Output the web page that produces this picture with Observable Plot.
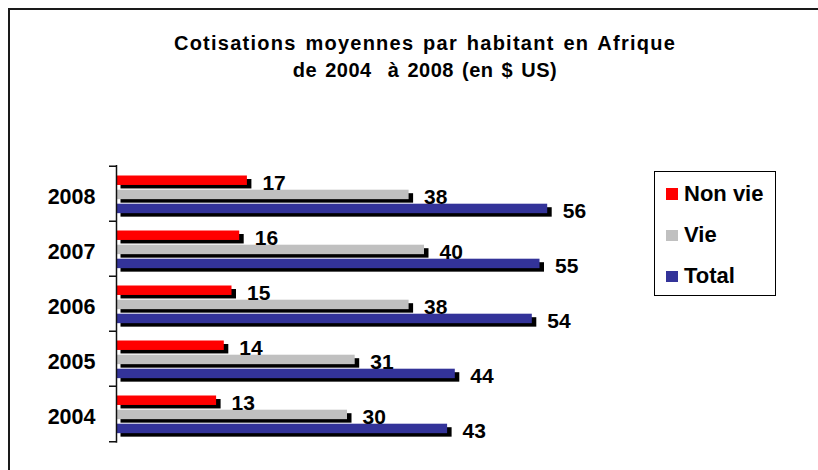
<!DOCTYPE html>
<html>
<head>
<meta charset="utf-8">
<script src="https://cdn.jsdelivr.net/npm/d3@7"></script>
<script src="https://cdn.jsdelivr.net/npm/@observablehq/plot@0.6"></script>
<style>
  html, body { margin: 0; padding: 0; background: #fff; overflow: hidden; }
  #wrap { position: relative; width: 818px; height: 470px; overflow: hidden; font-family: "Liberation Sans", Arial, sans-serif; }
  #wrap svg { position: absolute; left: 0; top: 0; background: transparent; }
  #frame { position: absolute; left: 8px; top: 8px; width: 900px; height: 600px; border-left: 2px solid #1a1a1a; border-top: 2px solid #1a1a1a; }
  #title { position: absolute; left: 21px; top: 29.6px; width: 808px; text-align: center; font-weight: bold; font-size: 20px; line-height: 27.5px; word-spacing: 2px; color: #000; }
  #legend { position: absolute; left: 654px; top: 171px; width: 120px; height: 123px; border: 1.5px solid #000; background: #fff; }
  .row { position: absolute; left: 0; height: 24px; line-height: 24px; font-weight: bold; font-size: 22px; color: #000; }
  .sw { position: absolute; left: 11px; top: 6.5px; width: 11.5px; height: 11.5px; }
  .lbl { position: absolute; left: 29px; top: 0; white-space: nowrap; }
</style>
</head>
<body>
<div id="wrap">
  <div id="title"></div>
  <div id="legend"></div>
</div>
<script>
// ---- data ----
const titleLines = ["Cotisations moyennes par habitant en Afrique", "de 2004  à 2008 (en $ US)"];
const years = ["2008", "2007", "2006", "2005", "2004"];
const seriesNames = ["Non vie", "Vie", "Total"];
const seriesColors = ["#FF0000", "#C0C0C0", "#333399"];
const nonVie = [17, 16, 15, 14, 13];
const vie = [38, 40, 38, 31, 30];
const total = [56, 55, 54, 44, 43];
const seriesValues = [nonVie, vie, total];

// ---- layout ----
const W = 818, H = 470;
const mL = 116, mR = 240, mT = 165, mB = 27.3;
const xMax = 60;
const bw = (H - mT - mB) / years.length;
const barTops = [9.5, 23.7, 37.7];
const barH = 10;
const pxPerUnit = (W - mL - mR) / xMax;
const tickLen = 7;
const titleSpacing = ["1.25px", "0.5px"];

const marks = [];
seriesValues.forEach((vals, s) => {
  const rows = years.map((y, i) => ({year: y, value: vals[i]}));
  const insetTop = barTops[s];
  const insetBottom = bw - barTops[s] - barH;
  marks.push(Plot.barX(rows, {x: "value", y: "year", fill: "#000", insetTop, insetBottom, dx: 4.5, dy: 3.5}));
  marks.push(Plot.barX(rows, {x: "value", y: "year", fill: seriesColors[s], insetTop, insetBottom}));
});
seriesValues.forEach((vals, s) => {
  const rows = years.map((y, i) => ({year: y, value: vals[i]}));
  marks.push(Plot.text(rows, {
    x: "value", y: "year", text: d => String(d.value),
    dx: 15, dy: barTops[s] + barH / 2 + 2.2 - bw / 2,
    textAnchor: "start", fontSize: 21, fontWeight: "bold", fill: "#000"
  }));
});
// axis line and boundary ticks
marks.push(Plot.ruleX([0], {stroke: "#111", strokeWidth: 1.5}));
marks.push(Plot.ruleY(years, {y: d => d, x1: 0, x2: -tickLen / pxPerUnit, dy: -bw / 2, stroke: "#111", strokeWidth: 1.5}));
marks.push(Plot.ruleY(years.slice(-1), {y: d => d, x1: 0, x2: -tickLen / pxPerUnit, dy: bw / 2, stroke: "#111", strokeWidth: 1.5}));
marks.push(Plot.axisY({tickSize: 0, tickPadding: 21, dy: 3.5, fontSize: 21.5, fontWeight: "bold", fill: "#000", label: null}));

const chart = Plot.plot({
  width: W, height: H,
  marginLeft: mL, marginRight: mR, marginTop: mT, marginBottom: mB,
  style: {fontFamily: "Liberation Sans, Arial, sans-serif", background: "transparent", overflow: "visible"},
  x: {domain: [0, xMax], axis: null},
  y: {domain: years, padding: 0, axis: null},
  marks
});
const wrap = document.getElementById("wrap");
wrap.insertBefore(chart, wrap.firstChild);
const frame = document.createElement("div");
frame.id = "frame";
wrap.insertBefore(frame, chart.nextSibling);

document.getElementById("title").innerHTML = titleLines.map((t, i) => `<div style="white-space:pre;letter-spacing:${titleSpacing[i]}">${t}</div>`).join("");
const legend = document.getElementById("legend");
const rowTops = [9.5, 51, 92];
seriesNames.forEach((n, i) => {
  const r = document.createElement("div");
  r.className = "row";
  r.style.top = rowTops[i] + "px";
  r.innerHTML = `<div class="sw" style="background:${seriesColors[i]}"></div><div class="lbl">${n}</div>`;
  legend.appendChild(r);
});
</script>
</body>
</html>
